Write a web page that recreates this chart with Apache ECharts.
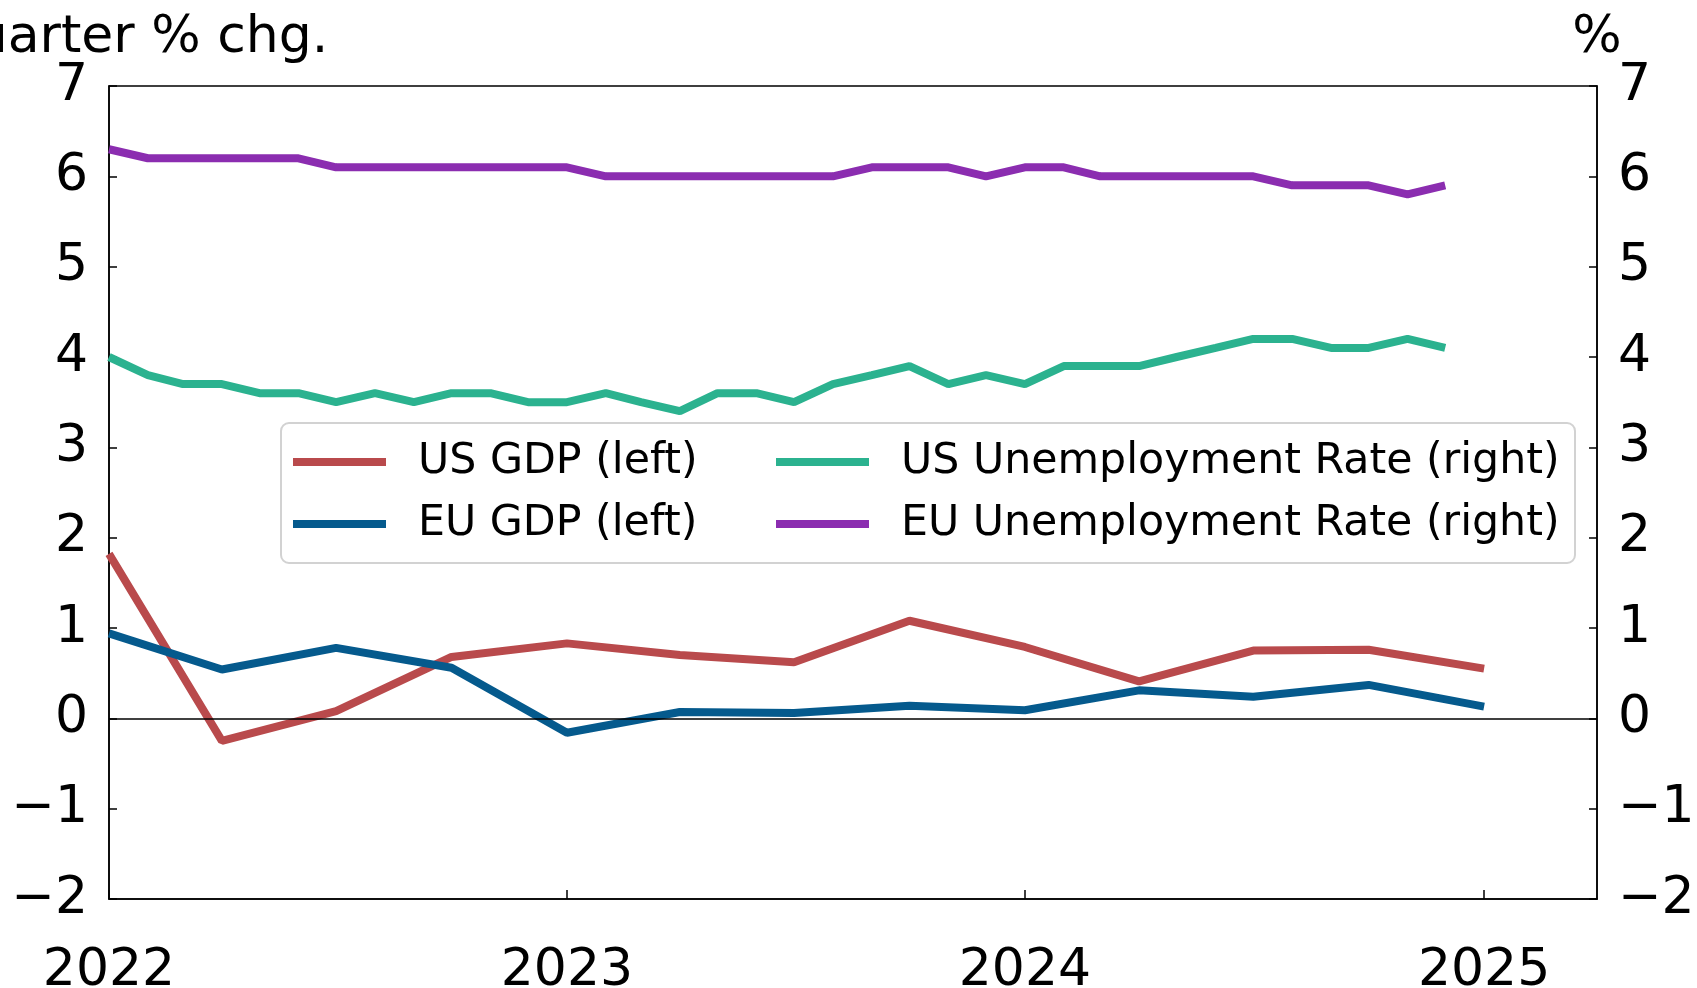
<!DOCTYPE html>
<html>
<head>
<meta charset="utf-8">
<script src="https://cdn.jsdelivr.net/npm/echarts@6/dist/echarts.min.js"></script>
<style>
html,body{margin:0;padding:0;background:#fff;}
#chart{width:1697px;height:988px;}
</style>
</head>
<body>
<div id="chart"></div>
<script>
// ---- data ----
const gdpQuarters = ['2022-01-01','2022-04-01','2022-07-01','2022-10-01','2023-01-01','2023-04-01','2023-07-01','2023-10-01','2024-01-01','2024-04-01','2024-07-01','2024-10-01','2025-01-01'];
const usGdp = [1.82, -0.25, 0.08, 0.68, 0.83, 0.70, 0.62, 1.08, 0.79, 0.41, 0.75, 0.76, 0.55];
const euGdp = [0.94, 0.54, 0.78, 0.56, -0.16, 0.07, 0.06, 0.14, 0.09, 0.31, 0.24, 0.37, 0.13];

const unempMonths = ['2022-01-01','2022-02-01','2022-03-01','2022-04-01','2022-05-01','2022-06-01','2022-07-01','2022-08-01','2022-09-01','2022-10-01','2022-11-01','2022-12-01',
  '2023-01-01','2023-02-01','2023-03-01','2023-04-01','2023-05-01','2023-06-01','2023-07-01','2023-08-01','2023-09-01','2023-10-01','2023-11-01','2023-12-01',
  '2024-01-01','2024-02-01','2024-03-01','2024-04-01','2024-05-01','2024-06-01','2024-07-01','2024-08-01','2024-09-01','2024-10-01','2024-11-01','2024-12-01'];
const usUnemp = [4.0, 3.8, 3.7, 3.7, 3.6, 3.6, 3.5, 3.6, 3.5, 3.6, 3.6, 3.5,
  3.5, 3.6, 3.5, 3.4, 3.6, 3.6, 3.5, 3.7, 3.8, 3.9, 3.7, 3.8,
  3.7, 3.9, 3.9, 3.9, 4.0, 4.1, 4.2, 4.2, 4.1, 4.1, 4.2, 4.1];
const euUnemp = [6.3, 6.2, 6.2, 6.2, 6.2, 6.2, 6.1, 6.1, 6.1, 6.1, 6.1, 6.1,
  6.1, 6.0, 6.0, 6.0, 6.0, 6.0, 6.0, 6.0, 6.1, 6.1, 6.1, 6.0,
  6.1, 6.1, 6.0, 6.0, 6.0, 6.0, 6.0, 5.9, 5.9, 5.9, 5.8, 5.9];

const seriesNames = ['US GDP (left)', 'US Unemployment Rate (right)', 'EU GDP (left)', 'EU Unemployment Rate (right)'];
const xRange = ['2022-01-01', '2025-04-01'];
const yMin = -2, yMax = 7, yStep = 1;
const leftAxisName = 'Quarter % chg.';
const rightAxisName = '%';

// ---- chart ----
const FONT = 'DejaVu Sans';
const DAY = 86400000;
const toTs = s => { const p = s.split('-').map(Number); return new Date(p[0], p[1] - 1, p[2]).getTime(); };
const pairs = (xs, ys) => xs.map((x, i) => [toTs(x), ys[i]]);
const minusFmt = v => String(v).replace('-', '\u2212');

const chart = echarts.init(document.getElementById('chart'), null, {renderer: 'canvas'});

const yAxisBase = {
  type: 'value', min: yMin, max: yMax, interval: yStep,
  axisLine: {show: true, onZero: false, lineStyle: {color: '#000', width: 1.5}},
  axisTick: {show: true, inside: true, length: 8, lineStyle: {color: '#000', width: 1.5}},
  axisLabel: {fontSize: 52, color: '#000', fontFamily: FONT, margin: 21, padding: [5, 0, 0, 0], formatter: minusFmt},
  splitLine: {show: false},
  nameLocation: 'end', nameGap: 22, nameMoveOverlap: false
};

const lineSeries = (name, data, color, yIdx, z) => ({
  name, type: 'line', data, yAxisIndex: yIdx, showSymbol: false, symbol: 'none',
  lineStyle: {color, width: 8}, itemStyle: {color}, z, animation: false
});

const colors = {us: '#b94a4c', eu: '#055a8d', usU: '#2bb28f', euU: '#8b2db0'};

const s1 = lineSeries(seriesNames[0], pairs(gdpQuarters, usGdp), colors.us, 0, 3);
s1.markLine = {
  silent: true, symbol: 'none', label: {show: false},
  lineStyle: {color: '#000', type: 'solid', width: 1.5},
  data: [{yAxis: 0}], animation: false
};

chart.setOption({
  animation: false,
  backgroundColor: '#fff',
  textStyle: {fontFamily: FONT},
  grid: {left: 109, right: 100, top: 86, bottom: 89, show: true, borderColor: '#000', borderWidth: 1.5,
         containLabel: false, outerBoundsMode: 'none'},
  xAxis: {
    type: 'time', min: toTs(xRange[0]), max: toTs(xRange[1]),
    minInterval: 365 * DAY, maxInterval: 366 * DAY,
    axisLine: {show: true, onZero: false, lineStyle: {color: '#000', width: 1.5}},
    axisTick: {show: true, inside: true, length: 9, lineStyle: {color: '#000', width: 1.5}},
    axisLabel: {fontSize: 52, color: '#000', fontFamily: FONT, margin: 46,
                formatter: v => String(new Date(v).getFullYear()), hideOverlap: false,
                showMinLabel: true, showMaxLabel: false},
    splitLine: {show: false}
  },
  yAxis: [
    Object.assign({}, yAxisBase, {position: 'left', name: leftAxisName,
      nameTextStyle: {fontSize: 52, color: '#000', fontFamily: FONT, align: 'center', padding: [0, 0, 0, 44]}}),
    Object.assign({}, yAxisBase, {position: 'right', name: rightAxisName,
      nameTextStyle: {fontSize: 52, color: '#000', fontFamily: FONT, align: 'center'}})
  ],
  legend: {
    left: 281, top: 423, width: 1290,
    orient: 'horizontal', itemGap: 12, itemWidth: 93, itemHeight: 8, icon: 'rect',
    padding: [14, 10, 14, 12],
    backgroundColor: 'rgba(255,255,255,0.85)', borderColor: '#d2d2d2', borderWidth: 2, borderRadius: 8,
    textStyle: {fontSize: 42.7, color: '#000', fontFamily: FONT, lineHeight: 50, padding: [0, 0, 0, 27]},
    data: [
      {name: seriesNames[0], textStyle: {width: 346}},
      {name: seriesNames[1], textStyle: {width: 664}},
      {name: seriesNames[2], textStyle: {width: 346}},
      {name: seriesNames[3], textStyle: {width: 664}}
    ]
  },
  series: [
    s1,
    lineSeries(seriesNames[2], pairs(gdpQuarters, euGdp), colors.eu, 0, 3),
    lineSeries(seriesNames[1], pairs(unempMonths, usUnemp), colors.usU, 1, 4),
    lineSeries(seriesNames[3], pairs(unempMonths, euUnemp), colors.euU, 1, 4)
  ]
});
</script>
</body>
</html>
